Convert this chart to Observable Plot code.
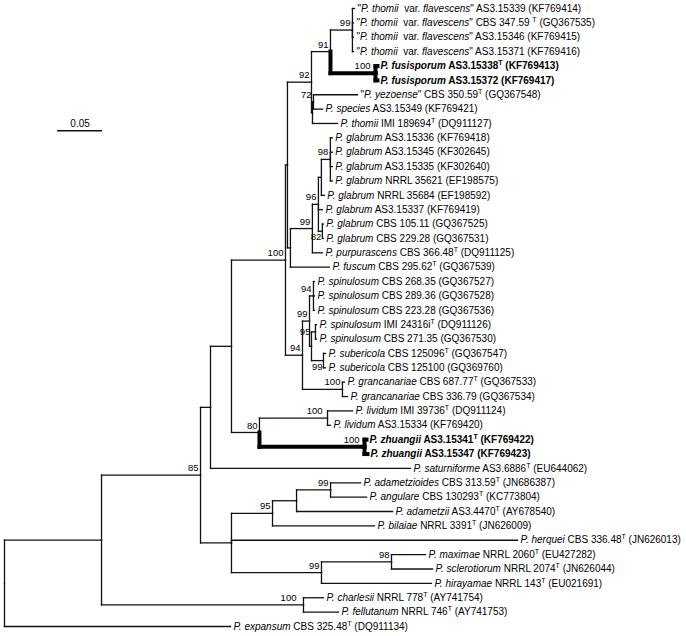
<!DOCTYPE html>
<html><head><meta charset="utf-8">
<script src="https://cdn.jsdelivr.net/npm/d3@7"></script>
<script src="https://cdn.jsdelivr.net/npm/@observablehq/plot@0.6"></script>
<style>html,body{margin:0;padding:0;background:#fff;} svg{display:block}</style>
</head><body><div id="chart"></div>
<script>
// Leaf labels, in tree order. _..._ = italic, ^T = superscript T (type strain)
const leafLabels = [
  '"_P. thomii_  var. _flavescens_" AS3.15339 (KF769414)',
  '"_P. thomii_  var. _flavescens_" CBS 347.59 ^T (GQ367535)',
  '"_P. thomii_  var. _flavescens_" AS3.15346 (KF769415)',
  '"_P. thomii_  var. _flavescens_" AS3.15371 (KF769416)',
  '_P. fusisporum_ AS3.15338^T (KF769413)',
  '_P. fusisporum_ AS3.15372 (KF769417)',
  '"_P. yezoense_" CBS 350.59^T (GQ367548)',
  '_P. species_ AS3.15349 (KF769421)',
  '_P. thomii_ IMI 189694^T (DQ911127)',
  '_P. glabrum_ AS3.15336 (KF769418)',
  '_P. glabrum_ AS3.15345 (KF302645)',
  '_P. glabrum_ AS3.15335 (KF302640)',
  '_P. glabrum_ NRRL 35621 (EF198575)',
  '_P. glabrum_ NRRL 35684 (EF198592)',
  '_P. glabrum_ AS3.15337 (KF769419)',
  '_P. glabrum_ CBS 105.11 (GQ367525)',
  '_P. glabrum_ CBS 229.28 (GQ367531)',
  '_P. purpurascens_ CBS 366.48^T (DQ911125)',
  '_P. fuscum_ CBS 295.62^T (GQ367539)',
  '_P. spinulosum_ CBS 268.35 (GQ367527)',
  '_P. spinulosum_ CBS 289.36 (GQ367528)',
  '_P. spinulosum_ CBS 223.28 (GQ367536)',
  '_P. spinulosum_ IMI 24316i^T (DQ911126)',
  '_P. spinulosum_ CBS 271.35 (GQ367530)',
  '_P. subericola_ CBS 125096^T (GQ367547)',
  '_P. subericola_ CBS 125100 (GQ369760)',
  '_P. grancanariae_ CBS 687.77^T (GQ367533)',
  '_P. grancanariae_ CBS 336.79 (GQ367534)',
  '_P. lividum_ IMI 39736^T (DQ911124)',
  '_P. lividum_ AS3.15334 (KF769420)',
  '_P. zhuangii_ AS3.15341^T (KF769422)',
  '_P. zhuangii_ AS3.15347 (KF769423)',
  '_P. saturniforme_ AS3.6886^T (EU644062)',
  '_P. adametzioides_ CBS 313.59^T (JN686387)',
  '_P. angulare_ CBS 130293^T (KC773804)',
  '_P. adametzii_ AS3.4470^T (AY678540)',
  '_P. bilaiae_ NRRL 3391^T (JN626009)',
  '_P. herquei_ CBS 336.48^T (JN626013)',
  '_P. maximae_ NRRL 2060^T (EU427282)',
  '_P. sclerotiorum_ NRRL 2074^T (JN626044)',
  '_P. hirayamae_ NRRL 143^T (EU021691)',
  '_P. charlesii_ NRRL 778^T (AY741754)',
  '_P. fellutanum_ NRRL 746^T (AY741753)',
  '_P. expansum_ CBS 325.48^T (DQ911134)'
];

// New taxa shown in bold
const boldLeaves = [4, 5, 30, 31];

// Tree edges: [node, parent, branch length (subst./site), bootstrap]
const edges = [
  ["A", "R", 0.1078],
  ["B", "A", 0.1100, 85],
  ["C", "B", 0.0111],
  ["E", "C", 0.0233],
  ["F", "E", 0.0600, 100],
  ["P", "F", 0.0022],
  ["N92", "P", 0.0267, 92],
  ["N91", "N92", 0.0211, 91],
  ["Nflav", "N91", 0.0244, 99],
  ["L0", "Nflav", 0.0022],
  ["L1", "Nflav", 0.0011],
  ["L2", "Nflav", 0.0011],
  ["L3", "Nflav", 0.0011],
  ["Nfus", "N91", 0.0500, 100],
  ["L4", "Nfus", 0.0022],
  ["L5", "Nfus", 0.0022],
  ["Nth", "N92", 0.0011],
  ["N72", "Nth", 0.0011, 72],
  ["L6", "N72", 0.0489],
  ["L7", "N72", 0.0100],
  ["L8", "Nth", 0.0278],
  ["T", "P", 0.0033],
  ["N99b", "T", 0.0244, 99],
  ["N96", "N99b", 0.0067, 96],
  ["U", "N96", 0.0033],
  ["N98", "U", 0.0100, 98],
  ["L9", "N98", 0.0022],
  ["L10", "N98", 0.0022],
  ["L11", "N98", 0.0022],
  ["L12", "N98", 0.0022],
  ["L13", "U", 0.0033],
  ["L14", "N96", 0.0044],
  ["N82", "N96", 0.0044, 82],
  ["L15", "N82", 0.0011],
  ["L16", "N82", 0.0011],
  ["L17", "N99b", 0.0111],
  ["L18", "T", 0.0433],
  ["Q", "F", 0.0189, 94],
  ["W", "Q", 0.0078, 99],
  ["N94b", "W", 0.0044, 94],
  ["L19", "N94b", 0.0011],
  ["L20", "N94b", 0.0011],
  ["L21", "N94b", 0.0011],
  ["Y", "W", 0.0022],
  ["N95", "Y", 0.0044, 95],
  ["L22", "N95", 0.0011],
  ["L23", "N95", 0.0011],
  ["N99c", "Y", 0.0133, 99],
  ["L24", "N99c", 0.0022],
  ["L25", "N99c", 0.0022],
  ["Ngr", "Q", 0.0444, 100],
  ["L26", "Ngr", 0.0022],
  ["L27", "Ngr", 0.0056],
  ["G", "E", 0.0311, 80],
  ["Nliv", "G", 0.0756, 100],
  ["L28", "Nliv", 0.0278],
  ["L29", "Nliv", 0.0033],
  ["Nzh", "G", 0.1167, 100],
  ["L30", "Nzh", 0.0022],
  ["L31", "Nzh", 0.0033],
  ["L32", "C", 0.2222],
  ["D", "B", 0.0344],
  ["H", "D", 0.0456, 95],
  ["I", "H", 0.0267],
  ["J", "I", 0.0378, 99],
  ["L33", "J", 0.0333],
  ["L34", "J", 0.0400],
  ["L35", "I", 0.1067],
  ["L36", "H", 0.1133],
  ["L37", "D", 0.3178],
  ["K", "D", 0.1000, 99],
  ["Nmax", "K", 0.0778, 98],
  ["L38", "Nmax", 0.0378],
  ["L39", "Nmax", 0.0456],
  ["L40", "K", 0.1222],
  ["M", "A", 0.2244, 100],
  ["L41", "M", 0.0222],
  ["L42", "M", 0.0389],
  ["L43", "R", 0.2511]
];

const scaleBarLength = 0.05;
const scaleBarLabel = "0.05";

// ---- layout (computed from the data) ----
const info = new Map(), kidsOf = new Map();
info.set("R", {id: "R", parent: null, len: 0, support: null});
for (const [id, parent, len, support] of edges) {
  info.set(id, {id, parent, len, support: support ?? null});
  if (!kidsOf.has(parent)) kidsOf.set(parent, []);
  kidsOf.get(parent).push(id);
}
const nodes = [];
let leafCount = 0;
function walk(id, parentDepth) {
  const n = info.get(id);
  n.depth = parentDepth + n.len;
  const kids = kidsOf.get(id) || [];
  if (!kids.length) {
    const idx = +id.slice(1);
    n.y = leafCount++;
    n.label = leafLabels[idx];
    n.bold = boldLeaves.includes(idx);
    n.leaf = true;
  } else {
    kids.forEach(k => walk(k, n.depth));
    const f = info.get(kids[0]), l = info.get(kids[kids.length - 1]);
    n.y = (f.y + l.y) / 2;
    n.bold = kids.every(k => info.get(k).bold);
    n.leaf = false;
  }
  nodes.push(n);
}
walk("R", 0);

const segs = [];
for (const n of nodes) if (n.parent) {
  const p = info.get(n.parent);
  segs.push({x1: p.depth, x2: n.depth, y1: n.y, y2: n.y, bold: n.bold});
  segs.push({x1: p.depth, x2: p.depth, y1: p.y, y2: n.y, bold: n.bold});
}
const leaves = nodes.filter(n => n.leaf).sort((a, b) => a.y - b.y);
const supported = nodes.filter(n => n.support != null);
const below = new Set(["N82", "N99c"]);
const middle = new Set(["N95"]);
const wideGap = new Set(["Nfus", "Nzh", "Nliv"]);
const widerGap = new Set(["M"]);
const isAbove = d => !below.has(d.id) && !middle.has(d.id);
const plain = s => s.replace(/_/g, "").replace(/\^T/g, "T");

const font = "'Liberation Sans', Arial, Helvetica, sans-serif";
const ink = "#111";
const barX = 0.059, barRow = 8.5;
const supportStyle = {x: "depth", y: "y", text: "support", textAnchor: "end", lineAnchor: "middle", fontSize: 9.5, fill: "#000"};

const svg = Plot.plot({
  width: 686, height: 636,
  marginLeft: 4, marginRight: 7, marginTop: 8, marginBottom: 10,
  x: {domain: [0, 0.75], axis: null},
  y: {domain: [0, 43], reverse: true, axis: null},
  style: {fontFamily: font, background: "#fff", color: "#000"},
  marks: [
    Plot.link(segs.filter(s => !s.bold), {x1: "x1", y1: "y1", x2: "x2", y2: "y2", stroke: ink, strokeWidth: 1.3, strokeLinecap: "square"}),
    Plot.link(segs.filter(s => s.bold), {x1: "x1", y1: "y1", x2: "x2", y2: "y2", stroke: "#000", strokeWidth: 4, strokeLinecap: "square"}),
    Plot.text(leaves.filter(d => !d.bold), {x: "depth", y: "y", text: d => plain(d.label), dx: 3, textAnchor: "start", lineAnchor: "middle", fontSize: 10, fill: "#000"}),
    Plot.text(leaves.filter(d => d.bold), {x: "depth", y: "y", text: d => plain(d.label), dx: 3, textAnchor: "start", lineAnchor: "middle", fontSize: 10, fontWeight: "bold", fill: "#000"}),
    Plot.text(supported.filter(d => isAbove(d) && !wideGap.has(d.id) && !widerGap.has(d.id)), {...supportStyle, dx: -2, dy: -7}),
    Plot.text(supported.filter(d => wideGap.has(d.id)), {...supportStyle, dx: -5, dy: -7}),
    Plot.text(supported.filter(d => widerGap.has(d.id)), {...supportStyle, dx: -7, dy: -7}),
    Plot.text(supported.filter(d => below.has(d.id)), {...supportStyle, dx: -1, dy: 6}),
    Plot.text(supported.filter(d => middle.has(d.id)), {...supportStyle, dx: -5, dy: 0}),
    Plot.ruleY([barRow], {x1: barX, x2: barX + scaleBarLength, stroke: ink, strokeWidth: 1.5}),
    Plot.text([scaleBarLabel], {x: barX + scaleBarLength / 2, y: barRow, text: d => d, dy: -7, lineAnchor: "middle", fontSize: 10, fill: "#000"})
  ]
});

// rich text for leaf labels: italics and superscript T
const byPlain = new Map(leafLabels.map(l => [plain(l), l]));
d3.select(svg).selectAll("text").each(function () {
  const raw = byPlain.get(this.textContent);
  if (!raw) return;
  const el = d3.select(this);
  el.text(null);
  let italic = false, reset = false;
  for (const tok of raw.split(/(_|\^T)/)) {
    if (tok === "") continue;
    if (tok === "_") { italic = !italic; continue; }
    if (tok === "^T") {
      el.append("tspan").attr("font-size", 7).attr("dy", -4).text("T");
      reset = true;
      continue;
    }
    const t = el.append("tspan").text(tok);
    if (italic) t.attr("font-style", "italic");
    if (reset) { t.attr("dy", 4); reset = false; }
  }
});

document.getElementById("chart").appendChild(svg);
</script></body></html>
